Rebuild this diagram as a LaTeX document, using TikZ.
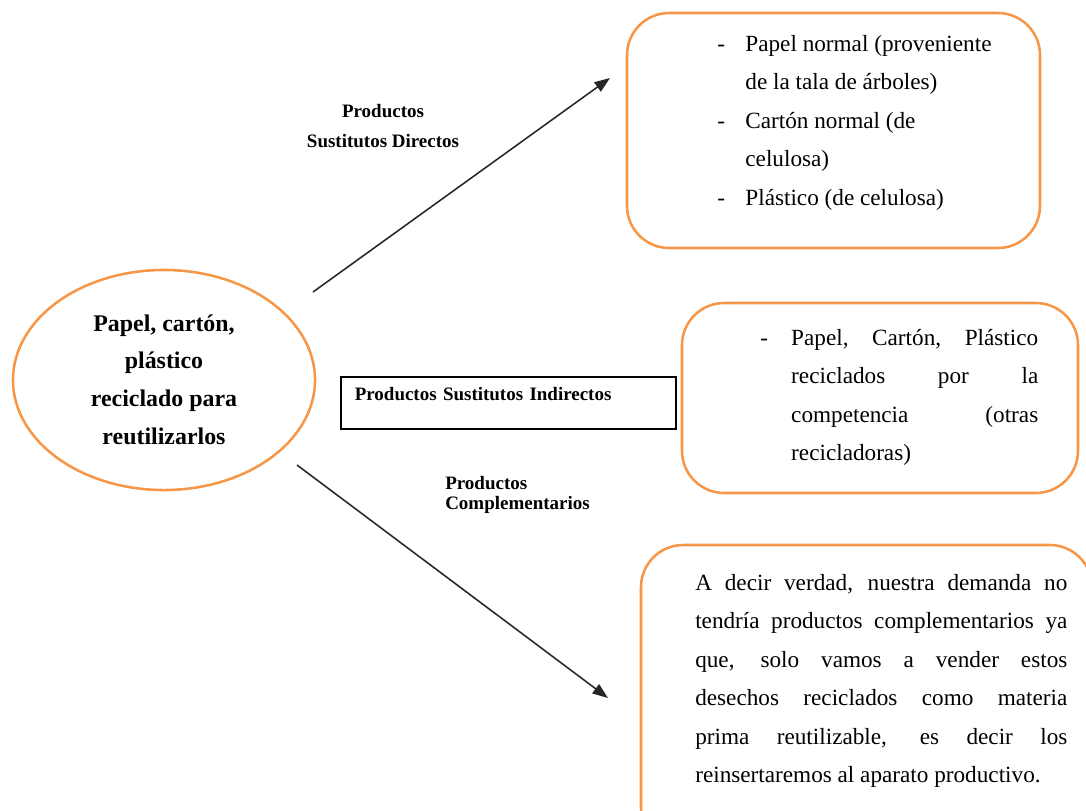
\documentclass[tikz,border=0pt]{standalone}
\usepackage{fontspec}
\setmainfont{Liberation Serif}
\usetikzlibrary{arrows.meta,positioning,fit,shapes.geometric}
\definecolor{cOrange}{RGB}{247,150,70}
\newcommand{\bodytext}{\fontsize{16.5}{27.4}\selectfont}
\newcommand{\labeltext}{\fontsize{13.5}{22}\selectfont\bfseries}
\tolerance=9999
\hbadness=10000
\hyphenpenalty=10000

\begin{document}
\begin{tikzpicture}[x=0.025cm, y=-0.025cm,
  obox/.style={rectangle, rounded corners=30pt, draw=cOrange, line width=1.8pt, inner sep=0pt},
  txt/.style={inner sep=0pt, anchor=base west, font=\bodytext},
  lbl/.style={inner sep=0pt, font=\labeltext},
  arr/.style={-{Triangle[length=11pt,width=8pt]}, line width=1.1pt, draw=black!85},
]
\useasboundingbox (0,0) rectangle (1086,810);
\clip (0,0) rectangle (1086,810);
\node[ellipse, draw=cOrange, line width=1.8pt, minimum width=7.55cm, minimum height=5.5cm,
  inner sep=0pt, font=\fontsize{17}{26.8}\selectfont\bfseries] (src) at (164,380)
  {\begin{tabular}{@{}c@{}}Papel, cartón,\\ plástico\\ reciclado para\\ reutilizarlos\end{tabular}};
\node[obox, fit={(627,13) (1040,248)}] (dirbox) {};
\node[txt] (dirtext) at (717,51) {\begin{tabular}[t]{@{}p{20pt}@{}l@{}}
  -& Papel normal (proveniente\\
   & de la tala de árboles)\\
  -& Cartón normal (de\\
   & celulosa)\\
  -& Plástico (de celulosa)
  \end{tabular}};
\node[obox, fit={(682,303) (1078,493)}] (indbox) {};
\node[txt] (indtext) at (760,345) {\begin{tabular}[t]{@{}p{22pt}@{}p{175.7pt}@{}}
  -& Papel, Cartón, Plástico\linebreak reciclados por la\linebreak
     competencia (otras\linebreak recicladoras)
  \end{tabular}};
\node[obox, fit={(641,545) (1092,850)}] (cmpbox) {};
\node[txt] (cmptext) at (695,590) {\begin{tabular}[t]{@{}p{264.6pt}@{}}
  A decir verdad, nuestra demanda no\linebreak tendría productos complementarios ya\linebreak
  que, solo vamos a vender estos\linebreak desechos reciclados como materia\linebreak
  prima reutilizable, es decir los\linebreak reinsertaremos al aparato productivo.
  \end{tabular}};
\node[lbl, align=center] (dirlbl) at (383,126) {Productos\\ Sustitutos Directos};
\node[draw, line width=1.1pt, anchor=north west, inner xsep=0.35cm, inner ysep=0.25cm,
  text width=7.675cm, text height=0.35cm, text depth=0.45cm, align=left, font=\labeltext]
  (indlbl) at (340,376) {Productos Sustitutos Indirectos};
\node[lbl, align=left, anchor=west, font=\fontsize{13.5}{14.2}\selectfont\bfseries]
  (cmplbl) at (445,495) {Productos\\ Complementarios};
\coordinate (d0) at (313,292);
\coordinate (d1) at (610,78);
\coordinate (c0) at (297,465);
\coordinate (c1) at (608,698);
\draw[arr] (d0) -- (d1);
\draw[arr] (c0) -- (c1);
\end{tikzpicture}
\end{document}
